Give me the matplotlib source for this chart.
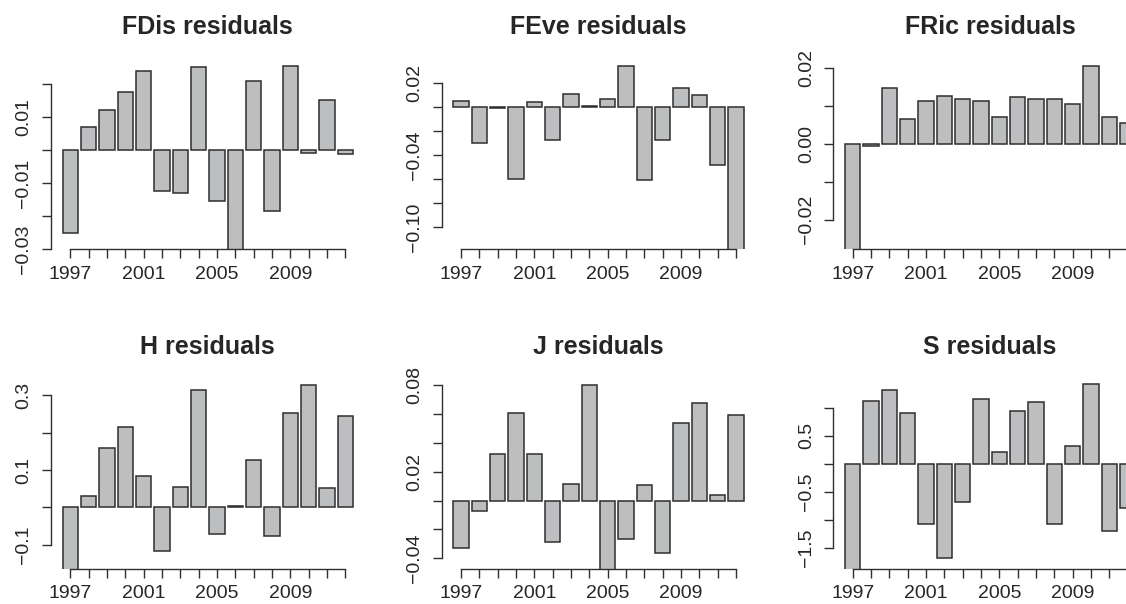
import matplotlib
matplotlib.use("Agg")
import matplotlib.pyplot as plt

# ---------------- data ----------------
years = list(range(1997, 2013))
year_labels = [str(y) if (y - 1997) % 4 == 0 else "" for y in years]

fdis = [-0.0252, 0.0071, 0.0123, 0.0176, 0.0240, -0.0125, -0.0131, 0.0253,
        -0.0155, -0.0330, 0.0209, -0.0185, 0.0257, -0.0007, 0.0151, -0.0012]
feve = [0.0056, -0.0300, -0.0010, -0.0597, 0.0042, -0.0270, 0.0111, 0.0008,
        0.0069, 0.0347, -0.0606, -0.0270, 0.0158, 0.0100, -0.0480, -0.1250]
fric = [-0.0300, -0.0005, 0.0147, 0.0064, 0.0111, 0.0124, 0.0118, 0.0113,
        0.0071, 0.0123, 0.0118, 0.0118, 0.0104, 0.0204, 0.0069, 0.0053]
h_res = [-0.170, 0.030, 0.1585, 0.2155, 0.0837, -0.1158, 0.0552, 0.3134,
         -0.0695, 0.0045, 0.1264, -0.0766, 0.252, 0.3286, 0.0508, 0.244]
j_res = [-0.0331, -0.0072, 0.0321, 0.0606, 0.0321, -0.0287, 0.0118, 0.0805,
         -0.0500, -0.0268, 0.0109, -0.0363, 0.0539, 0.0675, 0.0035, 0.0594]
s_res = [-1.90, 1.113, 1.315, 0.899, -1.071, -1.685, -0.690, 1.149,
         0.202, 0.935, 1.107, -1.071, 0.321, 1.417, -1.208, -0.792]

titles = ["FDis residuals", "FEve residuals", "FRic residuals",
          "H residuals", "J residuals", "S residuals"]
series = [fdis, feve, fric, h_res, j_res, s_res]

yticks = [
    [-0.03, -0.02, -0.01, 0.00, 0.01, 0.02],
    [-0.10, -0.08, -0.06, -0.04, -0.02, 0.00, 0.02],
    [-0.02, -0.01, 0.00, 0.01, 0.02],
    [-0.1, 0.0, 0.1, 0.2, 0.3],
    [-0.04, -0.02, 0.00, 0.02, 0.04, 0.06, 0.08],
    [-1.5, -1.0, -0.5, 0.0, 0.5, 1.0],
]
ytick_labels = [
    ["\u22120.03", "", "\u22120.01", "", "0.01", ""],
    ["\u22120.10", "", "", "\u22120.04", "", "", "0.02"],
    ["\u22120.02", "", "0.00", "", "0.02"],
    ["\u22120.1", "", "0.1", "", "0.3"],
    ["\u22120.04", "", "", "0.02", "", "", "0.08"],
    ["\u22121.5", "", "\u22120.5", "", "0.5", ""],
]
ylims = [(-0.030, 0.028), (-0.118, 0.041), (-0.0277, 0.0225),
         (-0.163, 0.346), (-0.0472, 0.0851), (-1.875, 1.53)]

# ---------------- layout (pixels) ----------------
W, H = 1126, 604
col_tick0 = [70.3, 461.0, 852.7]       # x of first bar centre
row_bottom = [249.0, 568.5]            # y of x-axis line
row_top = [58.0, 378.0]
row_title = [27.0, 346.7]
step = 18.33                           # px per bar
xl, xr = -1.0567, 16.0567

plt.rcParams['font.family'] = ['Liberation Sans', 'DejaVu Sans']
txt = '#262626'
edge = '#2e2e2e'

fig = plt.figure(figsize=(W / 100, H / 100), dpi=100)
fig.patch.set_facecolor('white')

for k in range(6):
    r, c = divmod(k, 3)
    left = col_tick0[c] + xl * step
    width = (xr - xl) * step
    bottom = row_bottom[r]
    top = row_top[r]
    ax = fig.add_axes([left / W, (H - bottom) / H, width / W, (bottom - top) / H])
    ax.set_facecolor('none')
    xs = list(range(len(years)))
    ax.bar(xs, series[k], width=1 / 1.2, color='#BDBEC0', edgecolor=edge,
           linewidth=1.1, zorder=2)
    ax.set_xlim(xl, xr)
    ax.set_ylim(*ylims[k])
    for s in ['top', 'right']:
        ax.spines[s].set_visible(False)
    for s in ['left', 'bottom']:
        ax.spines[s].set_linewidth(1.0)
        ax.spines[s].set_color(edge)
    ax.spines['left'].set_bounds(yticks[k][0], yticks[k][-1])
    ax.spines['bottom'].set_bounds(0, len(years) - 1)
    ax.set_xticks(xs)
    ax.set_xticklabels(year_labels)
    ax.set_yticks(yticks[k])
    ax.set_yticklabels(ytick_labels[k], rotation=90, va='center')
    ax.tick_params(axis='both', length=6.5, width=1.0, color=edge,
                   labelsize=14, labelcolor=txt)
    ax.tick_params(axis='y', pad=6.8)
    ax.tick_params(axis='x', pad=5.5)
    cx = col_tick0[c] + 7.5 * step
    fig.text(cx / W, 1 - row_title[r] / H, titles[k], ha='center', va='center',
             fontsize=18, fontweight='bold', color=txt)

fig.savefig('out.png', dpi=100, facecolor='white')
